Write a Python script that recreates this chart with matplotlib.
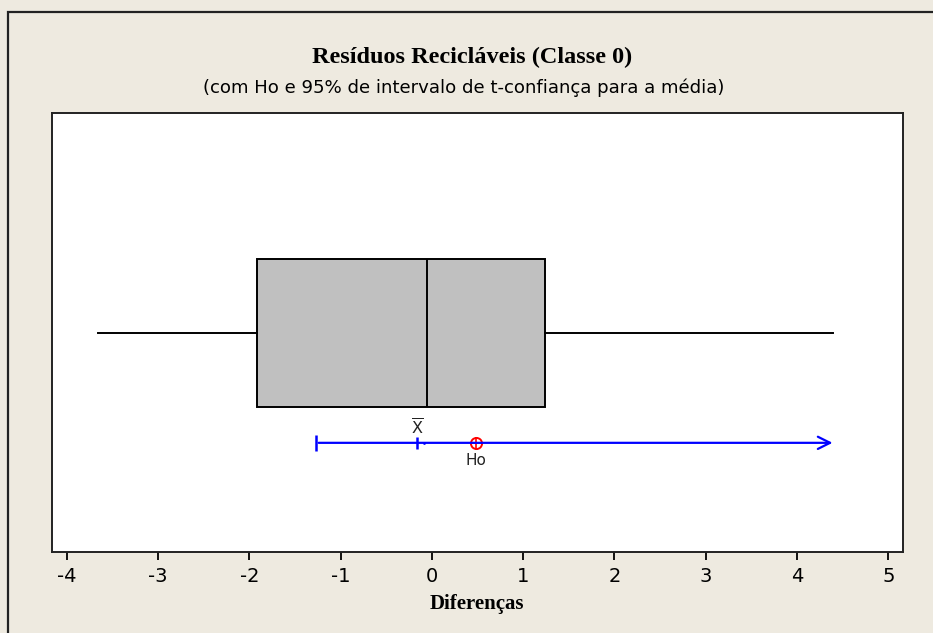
import matplotlib.pyplot as plt
from matplotlib.patches import Rectangle

# dados (Minitab)
whisker_low = -3.66
q1 = -1.91
median = -0.05
q3 = 1.24
whisker_high = 4.39

ci_low = -1.27
mean = -0.16
ho = 0.48

xticks = [-4, -3, -2, -1, 0, 1, 2, 3, 4, 5]

bg = "#EEEAE0"

fig = plt.figure(figsize=(9.33, 6.33), dpi=100, facecolor=bg)
ax = fig.add_axes([51.7/933, 1 - 551.7/633, (902.7-51.7)/933, (551.7-112.7)/633])
ax.set_facecolor("white")

# moldura da figura
fig.patches.append(Rectangle((8/933, -0.1), 1.2, 1 - 12/633 + 0.1, transform=fig.transFigure,
                             fill=False, edgecolor="#222222", linewidth=1.6))

# boxplot
ax.bxp([{"whislo": whisker_low, "q1": q1, "med": median, "q3": q3, "whishi": whisker_high,
         "fliers": []}],
       positions=[0.498], widths=0.337, vert=False, showcaps=False, patch_artist=True,
       boxprops=dict(facecolor="#C0C0C0", edgecolor="black", linewidth=1.4),
       medianprops=dict(color="black", linewidth=1.4),
       whiskerprops=dict(color="black", linewidth=1.4))

# intervalo de confianca
y_ci = 0.248
ax.annotate("", xy=(whisker_high + 0.03, y_ci), xytext=(ci_low, y_ci),
            arrowprops=dict(arrowstyle="->", color="blue", lw=1.6, mutation_scale=22))
ax.plot([ci_low], [y_ci], marker="|", color="blue", markersize=12, mew=1.8)
ax.plot([mean], [y_ci], marker="|", color="blue", markersize=8, mew=1.8)
ax.plot([mean + 0.07], [y_ci], marker=".", color="blue", markersize=2)
ax.plot([ho], [y_ci], marker="o", color="red", markersize=8, mfc="none", mew=1.4)
ax.plot([ho], [y_ci], marker="+", color="red", markersize=8, mew=1.2)
ax.text(mean, y_ci + 0.012, r"$\overline{\mathrm{X}}$", ha="center", va="bottom", fontsize=11.5,
        color="#222222")
ax.text(ho, y_ci - 0.024, "Ho", ha="center", va="top", fontsize=11, color="#222222")

ax.set_xlim(-4.164, 5.158)
ax.set_ylim(0, 1)
ax.set_yticks([])
ax.set_xticks(xticks)
ax.set_xticklabels([str(t) for t in xticks], fontsize=14)
ax.tick_params(axis="x", direction="out", length=6, width=1.3, pad=5)
for s in ax.spines.values():
    s.set_linewidth(1.4)
    s.set_color("#222222")

ax.set_xlabel("Diferenças", fontsize=15, fontweight="bold", family="Liberation Serif", labelpad=6)

fig.text(472/933, 1 - 57/633, "Resíduos Recicláveis (Classe 0)", ha="center", va="center",
         fontsize=17.5, fontweight="bold", family="Liberation Serif")
fig.text(464/933, 1 - 88/633, "(com Ho e 95% de intervalo de t-confiança para a média)",
         ha="center", va="center", fontsize=13.1)

plt.savefig("out.png", dpi=100, facecolor=bg)
